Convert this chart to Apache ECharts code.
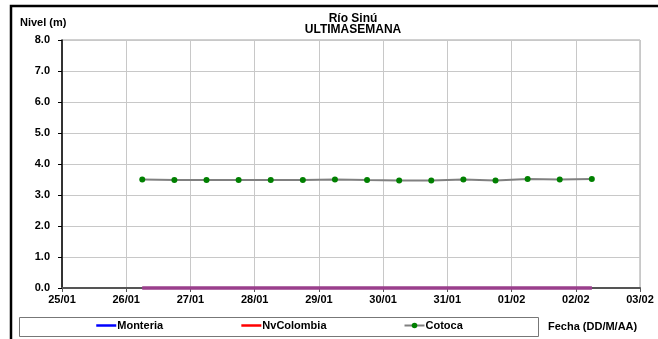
<!DOCTYPE html>
<html><head><meta charset="utf-8">
<script src="https://cdn.jsdelivr.net/npm/echarts@6/dist/echarts.min.js"></script>
<style>html,body{margin:0;padding:0;background:#fff}#c{width:658px;height:339px}</style>
</head><body><div id="c"></div>
<script>
// Data
var times = ['26/01 06','26/01 18','27/01 06','27/01 18','28/01 06','28/01 18','29/01 06','29/01 18',
             '30/01 06','30/01 18','31/01 06','31/01 18','01/02 06','01/02 18','02/02 06'];
var cotoca = [3.50,3.48,3.48,3.48,3.48,3.48,3.50,3.48,3.47,3.47,3.50,3.47,3.52,3.50,3.52];
var monteria = [0,0,0,0,0,0,0,0,0,0,0,0,0,0,0];
var nvcolombia = [0,0,0,0,0,0,0,0,0,0,0,0,0,0,0];
var xStart = '25/01', xEnd = '03/02';
var yTicks = ['0.0','1.0','2.0','3.0','4.0','5.0','6.0','7.0','8.0'];

var DAY = 86400000;
function parseT(s){
  var p = s.split(' '), dm = p[0].split('/');
  var h = p[1] ? parseInt(p[1],10) : 0;
  return Date.UTC(2000, parseInt(dm[1],10)-1, parseInt(dm[0],10), h);
}
function pairs(vals){ return times.map(function(t,i){ return [parseT(t), vals[i]]; }); }
function fmt(v){
  var d = new Date(v);
  var dd = ('0'+d.getUTCDate()).slice(-2), mm = ('0'+(d.getUTCMonth()+1)).slice(-2);
  return dd+'/'+mm;
}
var F = 'Liberation Sans, Arial, sans-serif';
var chart = echarts.init(document.getElementById('c'), null, {renderer:'canvas'});
chart.setOption({
  animation:false,
  backgroundColor:'#fff',
  grid:{left:62, right:18, top:40, bottom:51, show:true, borderColor:'#a0a0a0', borderWidth:1, containLabel:false},
  xAxis:{type:'value', min:parseT(xStart), max:parseT(xEnd), interval:DAY,
    axisLine:{show:true, lineStyle:{color:'#555', width:2}},
    axisTick:{show:true, length:4, lineStyle:{color:'#555'}},
    axisLabel:{formatter:fmt, fontFamily:F, fontSize:11, fontWeight:'bold', color:'#000', margin:6},
    splitLine:{show:true, lineStyle:{color:'#c8c8c8', width:1}}},
  yAxis:{type:'value', min:0, max:8, interval:1,
    axisLine:{show:true, lineStyle:{color:'#000', width:1.5}},
    axisTick:{show:true, length:4, lineStyle:{color:'#000'}},
    axisLabel:{formatter:function(v){return yTicks[Math.round(v)];}, fontFamily:F, fontSize:11, fontWeight:'bold', color:'#000', margin:12},
    splitLine:{show:true, lineStyle:{color:'#c8c8c8', width:1}}},
  legend:{left:95, top:320, itemGap:77, itemWidth:20, itemHeight:7, padding:0,
    textStyle:{fontFamily:F, fontSize:11, fontWeight:'bold', color:'#000', padding:[0,0,0,-4]},
    data:[
      {name:'Monteria', itemStyle:{color:'#0000ff', opacity:0}, lineStyle:{color:'#0000ff', width:2.5}},
      {name:'NvColombia', itemStyle:{color:'#ff0000', opacity:0}, lineStyle:{color:'#ff0000', width:2.5}},
      {name:'Cotoca'}
    ]},
  graphic:[
    {type:'rect', shape:{x:11, y:6, width:700, height:400}, style:{fill:'none', stroke:'#000', lineWidth:2.5}, silent:true},
    {type:'rect', shape:{x:19.5, y:317.5, width:519, height:19}, style:{fill:'none', stroke:'#777', lineWidth:1}, silent:true},
    {type:'text', x:353, y:19, style:{text:'Río Sinú', font:'bold 12px '+F, fill:'#000', textAlign:'center', textVerticalAlign:'middle'}},
    {type:'text', x:353, y:30, style:{text:'ULTIMASEMANA', font:'bold 12px '+F, fill:'#000', textAlign:'center', textVerticalAlign:'middle'}},
    {type:'text', left:20, top:17, style:{text:'Nivel (m)', font:'bold 11px '+F, fill:'#000'}},
    {type:'text', left:548, top:321, style:{text:'Fecha (DD/M/AA)', font:'bold 11px '+F, fill:'#000'}}
  ],
  series:[
    {name:'Monteria', type:'line', data:pairs(monteria), showSymbol:false, symbol:'none', clip:false,
      lineStyle:{color:'#9a3f8c', width:3}, itemStyle:{color:'#0000ff'}, z:3},
    {name:'NvColombia', type:'line', data:pairs(nvcolombia), showSymbol:false, symbol:'none', clip:false,
      lineStyle:{color:'#9a3f8c', width:3}, itemStyle:{color:'#ff0000'}, z:3},
    {name:'Cotoca', type:'line', data:pairs(cotoca), symbol:'circle', symbolSize:6,
      lineStyle:{color:'#808080', width:2}, itemStyle:{color:'#008000', borderWidth:0}, z:4}
  ]
});
</script></body></html>
